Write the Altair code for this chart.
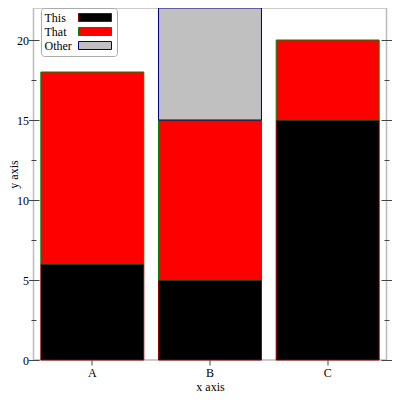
import altair as alt
import pandas as pd

categories = ["A", "B", "C"]
series_names = ["This", "That", "Other"]
this_vals = [6, 5, 15]
that_vals = [12, 10, 5]
other_vals = [0, 7, 0]
fill_colors = ["#000000", "#ff0000", "#c0c0c0"]
stroke_colors = ["#8b0000", "#008000", "#000080"]
y_major = [0, 5, 10, 15, 20]
y_minor = [2.5, 7.5, 12.5, 17.5]
y_domain = [0, 22]

rows = []
for i, c in enumerate(categories):
    for k, (name, vals) in enumerate(zip(series_names, [this_vals, that_vals, other_vals])):
        if vals[i] > 0:
            rows.append({"cat": c, "series": name, "value": vals[i], "ord": k})
df = pd.DataFrame(rows)

FONT = "Liberation Serif"
PLOT_W = 353
PLOT_H = 352

y_scale = alt.Scale(domain=y_domain, nice=False, zero=True)
x_scale = alt.Scale(paddingInner=0.125, paddingOuter=0.0625)

legend = alt.Legend(
    title=None, orient="none", legendX=7.5, legendY=0,
    fillColor="white", strokeColor="#aaaaaa", cornerRadius=3, padding=3.5,
    labelFont=FONT, labelFontSize=12, labelColor="black",
    symbolType="M-3,-0.73H3V0.73H-3Z", symbolSize=121, symbolStrokeWidth=1,
    symbolOpacity=1, symbolOffset=44.5, labelOffset={"expr": "-56.5"}, rowPadding=0,
)

bars = alt.Chart(df).mark_bar(strokeWidth=1, opacity=1).encode(
    x=alt.X("cat:N", scale=x_scale, sort=categories,
            axis=alt.Axis(title="x axis", labelAngle=0, domain=False, tickSize=5,
                          tickColor="#444444", labelPadding=2, titlePadding=3, grid=False)),
    y=alt.Y("value:Q", stack="zero", scale=y_scale,
            axis=alt.Axis(orient="left", title="y axis", values=y_major, ticks=False,
                          domain=False, grid=False, labelPadding=5,
                          titleX=-20, titleY=166, titleBaseline="middle",
                          titleAlign="center", titleAngle=270)),
    color=alt.Color("series:N", scale=alt.Scale(domain=series_names, range=fill_colors), legend=legend),
    stroke=alt.Stroke("series:N", scale=alt.Scale(domain=series_names, range=stroke_colors), legend=legend),
    order=alt.Order("ord:Q"),
)


def tick_layer(orient, values, offset, size):
    return alt.Chart(df).mark_point(opacity=0).encode(
        y=alt.Y("value:Q", scale=y_scale,
                axis=alt.Axis(orient=orient, values=values, offset=offset, tickSize=size,
                              labels=False, domain=False, grid=False, title=None,
                              tickColor="#444444", tickWidth=1)),
    )


chart = alt.layer(
    bars,
    tick_layer("left", y_major, -5.5, 10.5),
    tick_layer("left", y_minor, -2.5, 5),
    tick_layer("right", y_major, -5.5, 11),
    tick_layer("right", y_minor, -2.5, 5),
).resolve_axis(y="independent").properties(
    width=PLOT_W, height=PLOT_H,
    autosize=alt.AutoSizeParams(type="none"),
    padding={"left": 25.5, "top": 0, "right": 5.5, "bottom": 32},
).configure_view(
    stroke="#bbbbbb", strokeWidth=1.5
).configure_axis(
    labelFont=FONT, titleFont=FONT, labelFontSize=12, titleFontSize=12,
    labelColor="black", titleColor="black", titleFontWeight="normal",
)

chart.save("out.html", embed_options={"renderer": "svg", "actions": False})
